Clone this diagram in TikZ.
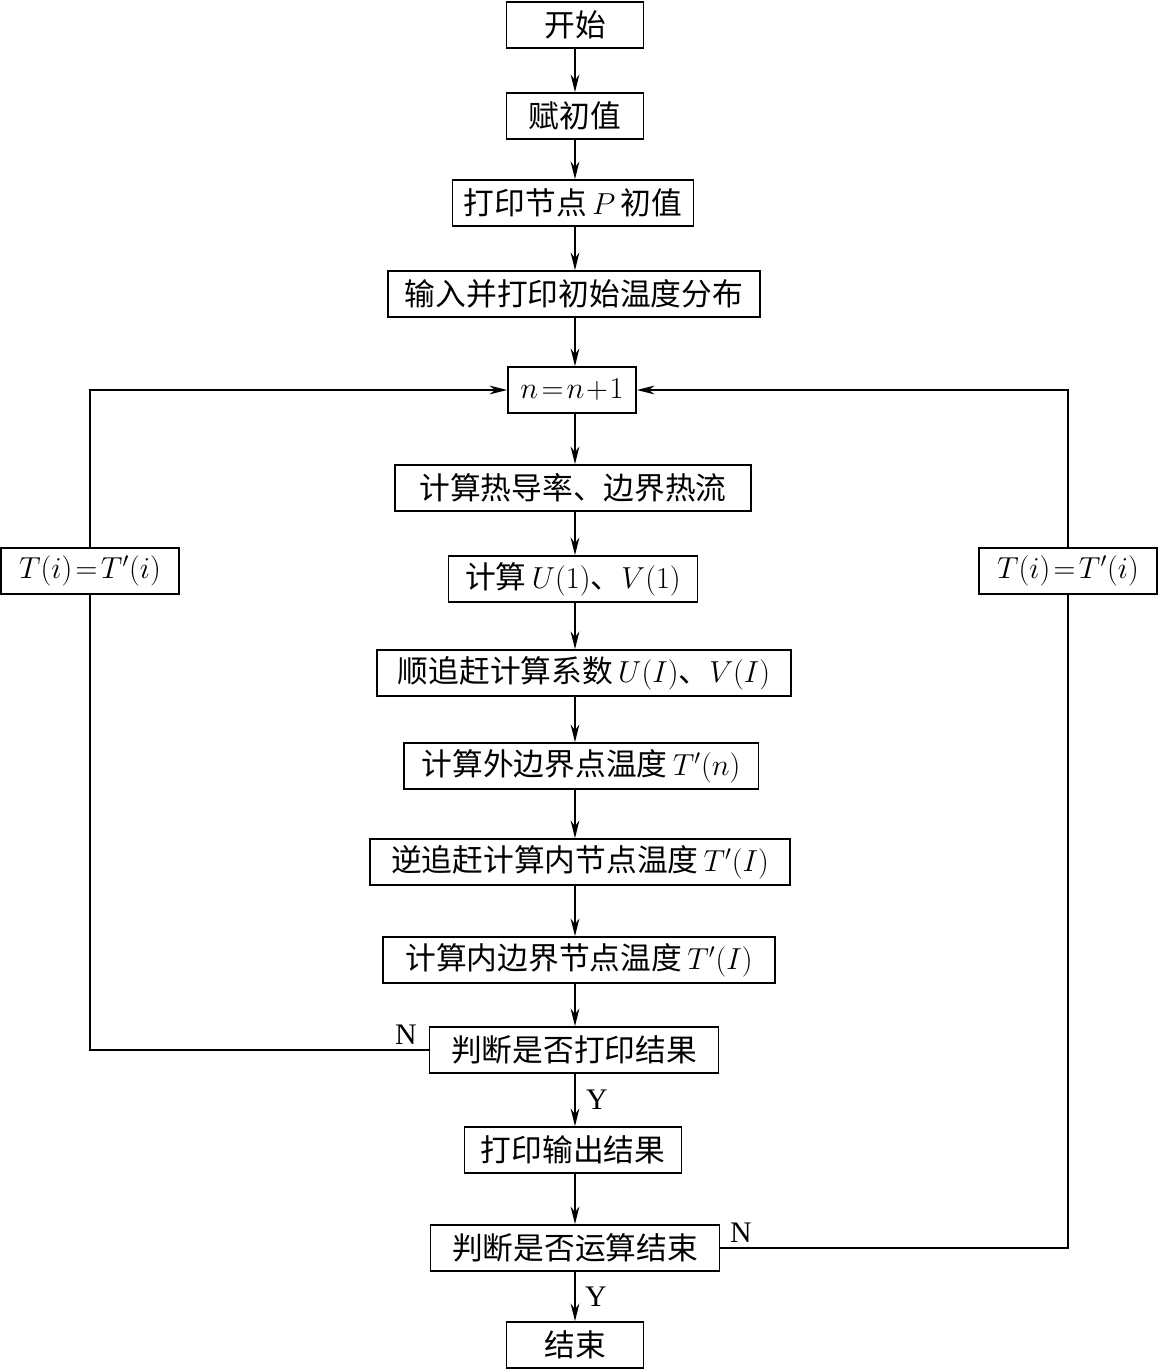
\documentclass[tikz,border=0pt]{standalone}
\usepackage{fontspec}
\setmainfont{Liberation Serif}
\newfontfamily\cjk{Noto Sans CJK SC}
\usetikzlibrary{arrows.meta}

\begin{document}
\begin{tikzpicture}[x=0.02cm,y=-0.02cm,line width=1.1pt,
    box/.style={draw,font=\cjk\fontsize{17.5}{20}\selectfont,minimum height=0.92cm,inner xsep=0.15cm},
    flow/.style={-{Stealth[length=10pt,width=5pt]}},
    yn/.style={font=\fontsize{17}{20}\selectfont}]
        \useasboundingbox (0,0) rectangle (1158,1370);
        \coordinate (spine) at (575,0);
        % main column
        \node[box,minimum width=2.74cm] (start) at (575,25) {开始};
        \node[box,minimum width=2.74cm] (init) at (575,116) {赋初值};
        \node[box,minimum width=4.82cm] (prtP) at (573,203) {打印节点\,$P$\,初值};
        \node[box,minimum width=7.44cm] (input) at (574,294) {输入并打印初始温度分布};
        \node[box,minimum width=2.56cm] (incr) at (572,390) {$n\!=\!n\!+\!1$};
        \node[box,minimum width=7.12cm] (cond) at (573,488) {计算热导率、边界热流};
        \node[box,minimum width=4.98cm] (uv1) at (573,579) {计算\,$U(1)$、$V(1)$};
        \node[box,minimum width=8.28cm] (fwd) at (584,673) {顺追赶计算系数\,$U(I)$、$V(I)$};
        \node[box,minimum width=7.10cm] (outer) at (581,766) {计算外边界点温度\,$T'(n)$};
        \node[box,minimum width=8.40cm] (bwd) at (580,862) {逆追赶计算内节点温度\,$T'(I)$};
        \node[box,minimum width=7.84cm] (inner) at (579,960) {计算内边界节点温度\,$T'(I)$};
        \node[box,minimum width=5.78cm] (askprt) at (574,1050) {判断是否打印结果};
        \node[box,minimum width=4.34cm] (output) at (573,1150) {打印输出结果};
        \node[box,minimum width=5.78cm] (askend) at (575,1248) {判断是否运算结束};
        \node[box,minimum width=2.74cm] (stop) at (575,1345) {结束};
        % side boxes
        \node[box,minimum width=3.56cm] (tl) at (90,571) {$T(i)\!=\!T'(i)$};
        \node[box,minimum width=3.56cm] (tr) at (1068,571) {$T(i)\!=\!T'(i)$};
        % connectors
        \foreach \a/\b in {start/init,init/prtP,prtP/input,input/incr,incr/cond,cond/uv1,uv1/fwd,
            fwd/outer,outer/bwd,bwd/inner,inner/askprt,askprt/output,output/askend,askend/stop}
            \draw[flow] (\a.south -| spine) -- (\b.north -| spine);
        \draw (askprt.west) -- (askprt.west -| tl) -- (tl.south);
        \draw[flow] (tl.north) -- (tl.north |- incr) -- (incr.west);
        \draw (askend.east) -- (askend.east -| tr) -- (tr.south);
        \draw[flow] (tr.north) -- (tr.north |- incr) -- (incr.east);
        \node[yn] (no1) at (406,1035) {N};
        \node[yn] (yes1) at (597,1100) {Y};
        \node[yn] (no2) at (741,1233) {N};
        \node[yn] (yes2) at (596,1297) {Y};
    \end{tikzpicture}
\end{document}
